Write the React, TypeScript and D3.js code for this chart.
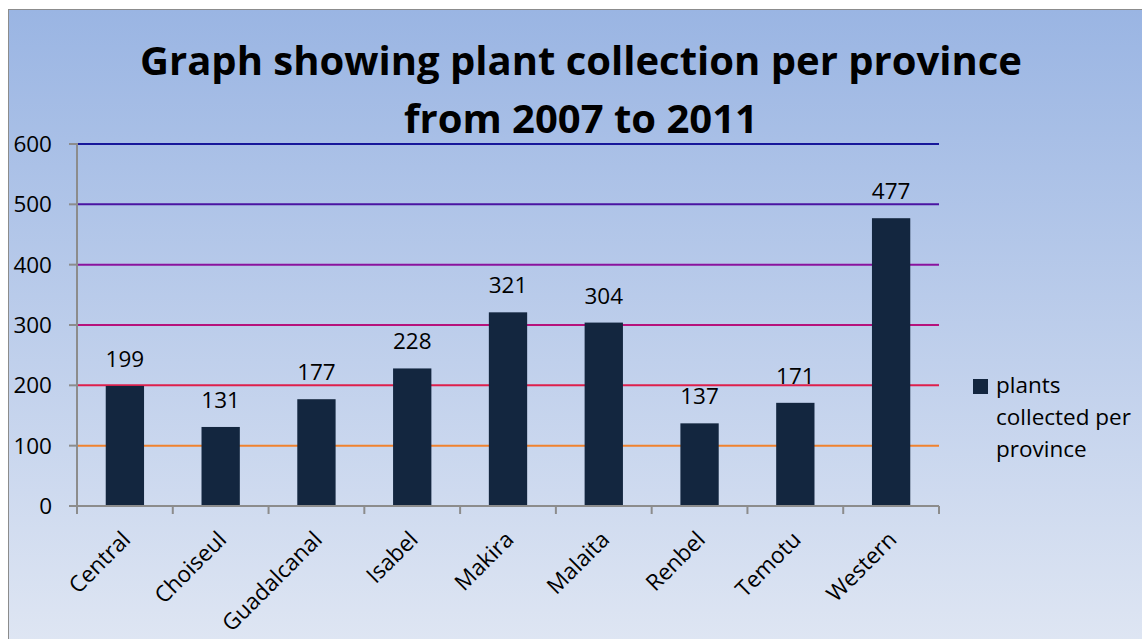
import React from "react";
import * as d3 from "d3";

const provinces = ["Central", "Choiseul", "Guadalcanal", "Isabel", "Makira", "Malaita", "Renbel", "Temotu", "Western"];
const plantsCollected = [199, 131, 177, 228, 321, 304, 137, 171, 477];
const yTicks = [0, 100, 200, 300, 400, 500, 600];
const gridColors: Record<number, string> = {
  100: "#f0822e",
  200: "#de1f4c",
  300: "#b6127c",
  400: "#8a139e",
  500: "#4a14a2",
  600: "#17179a",
};
const titleLines = ["Graph showing plant collection per province", "from 2007 to 2011"];
const legendLines = ["plants", "collected per", "province"];

const W = 1142;
const H = 639;
const left = 77;
const right = 939;
const top = 144;
const bottom = 506;
const font = "'Open Sans', sans-serif";

export default function App() {
  const x = d3.scaleBand<string>().domain(provinces).range([left, right]).padding(0);
  const y = d3.scaleLinear().domain([0, 600]).range([bottom, top]);
  const bw = x.bandwidth() * 0.4;
  const boundaries = d3.range(provinces.length + 1).map((i) => left + i * x.step());

  return (
    <svg width={W} height={H} style={{ position: "absolute", left: 0, top: 0 }}>
      <defs>
        <linearGradient id="bg" x1="0" y1="0" x2="0" y2="1">
          <stop offset="0%" stopColor="#9ab5e3" />
          <stop offset="100%" stopColor="#dfe6f3" />
        </linearGradient>
      </defs>
      <rect x={0} y={0} width={W} height={H} fill="#ffffff" />
      <rect x={8.5} y={9.5} width={W} height={H} fill="url(#bg)" stroke="#8c8c8c" strokeWidth={1} />
      {titleLines.map((t, i) => (
        <text key={t} x={581} y={75 + i * 58} textAnchor="middle" fontFamily={font} fontWeight="bold" fontSize={40} fill="#000">
          {t}
        </text>
      ))}
      {yTicks.filter((v) => v > 0).map((v) => (
        <line key={v} x1={left} x2={right} y1={y(v)} y2={y(v)} stroke={gridColors[v]} strokeWidth={2} />
      ))}
      {provinces.map((p, i) => (
        <rect
          key={p}
          x={(x(p) as number) + (x.bandwidth() - bw) / 2}
          y={y(plantsCollected[i])}
          width={bw}
          height={bottom - y(plantsCollected[i])}
          fill="#13263f"
        />
      ))}
      {provinces.map((p, i) => (
        <text
          key={p}
          x={(x(p) as number) + x.bandwidth() / 2}
          y={y(plantsCollected[i]) - 19}
          textAnchor="middle"
          fontFamily={font}
          fontSize={22.5}
          fill="#000"
        >
          {plantsCollected[i]}
        </text>
      ))}
      <line x1={left} x2={left} y1={top - 1} y2={bottom + 8} stroke="#8c8c8c" strokeWidth={2} />
      <line x1={left - 8} x2={right} y1={bottom} y2={bottom} stroke="#8c8c8c" strokeWidth={2} />
      {yTicks.map((v) => (
        <g key={v}>
          <line x1={left - 8} x2={left} y1={y(v)} y2={y(v)} stroke="#8c8c8c" strokeWidth={2} />
          <text x={52} y={y(v) + 8} textAnchor="end" fontFamily={font} fontSize={22.5} fill="#000">
            {v}
          </text>
        </g>
      ))}
      {boundaries.map((b, i) => (
        <line key={i} x1={b} x2={b} y1={bottom} y2={bottom + 8} stroke="#8c8c8c" strokeWidth={2} />
      ))}
      {provinces.map((p) => {
        const cx = (x(p) as number) + x.bandwidth() / 2 + 7;
        return (
          <text
            key={p}
            transform={`translate(${cx},${bottom + 35}) rotate(-45)`}
            textAnchor="end"
            fontFamily={font}
            fontSize={22.5}
            fill="#000"
          >
            {p}
          </text>
        );
      })}
      <rect x={973} y={379} width={15} height={15} fill="#13263f" />
      {legendLines.map((t, i) => (
        <text key={t} x={996} y={393 + i * 32} fontFamily={font} fontSize={22.5} fill="#000">
          {t}
        </text>
      ))}
    </svg>
  );
}
